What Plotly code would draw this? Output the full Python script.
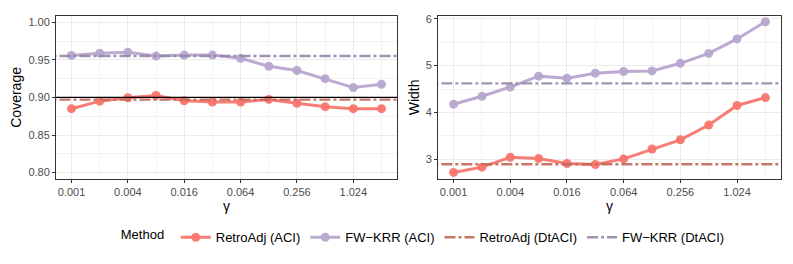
import math
import plotly.graph_objects as go
from plotly.subplots import make_subplots

gamma = [0.001, 0.002, 0.004, 0.008, 0.016, 0.032, 0.064, 0.128, 0.256, 0.512, 1.024, 2.048]
tick_vals = [0.001, 0.004, 0.016, 0.064, 0.256, 1.024]
tick_text = ["0.001", "0.004", "0.016", "0.064", "0.256", "1.024"]
minor_x = [0.002, 0.008, 0.032, 0.128, 0.512, 2.048]

cov_retro_aci = [0.885, 0.895, 0.8995, 0.9026, 0.8956, 0.8938, 0.8938, 0.8973, 0.8921, 0.8877, 0.885, 0.885]
cov_fw_aci = [0.9559, 0.9589, 0.9602, 0.955, 0.9563, 0.9563, 0.952, 0.9415, 0.9358, 0.9249, 0.9131, 0.9174]
cov_retro_dt = 0.897
cov_fw_dt = 0.955
target = 0.90

wid_retro_aci = [2.718, 2.831, 3.042, 3.014, 2.908, 2.887, 3.007, 3.218, 3.415, 3.732, 4.148, 4.317]
wid_fw_aci = [4.176, 4.345, 4.542, 4.775, 4.732, 4.838, 4.873, 4.887, 5.049, 5.261, 5.570, 5.937]
wid_retro_dt = 2.894
wid_fw_dt = 4.620

names = ["RetroAdj (ACI)", "FW\u2212KRR (ACI)", "RetroAdj (DtACI)", "FW\u2212KRR (DtACI)"]
col_retro = "rgba(248,118,109,0.95)"
col_fw = "rgba(183,166,207,0.95)"
col_retro_dt = "rgba(192,104,90,0.9)"
col_fw_dt = "rgba(148,136,166,0.9)"
dash_pat = "11px,3px,3px,3px"

FONT = "Liberation Sans, Arial, sans-serif"

fig = make_subplots(rows=1, cols=2)

def add_panel(col, retro, fw, retro_dt, fw_dt, show):
    fig.add_trace(go.Scatter(x=gamma, y=retro, mode="lines+markers", name=names[0],
                             line=dict(color=col_retro, width=3), marker=dict(size=9, color=col_retro),
                             showlegend=show, legendgroup="a"), row=1, col=col)
    fig.add_trace(go.Scatter(x=gamma, y=fw, mode="lines+markers", name=names[1],
                             line=dict(color=col_fw, width=3), marker=dict(size=9, color=col_fw),
                             showlegend=show, legendgroup="b"), row=1, col=col)
    xs = [gamma[0] / 2.2, gamma[-1] * 2.2]
    fig.add_trace(go.Scatter(x=xs, y=[retro_dt, retro_dt], mode="lines", name=names[2],
                             line=dict(color=col_retro_dt, width=2.4, dash=dash_pat),
                             showlegend=show, legendgroup="c"), row=1, col=col)
    fig.add_trace(go.Scatter(x=xs, y=[fw_dt, fw_dt], mode="lines", name=names[3],
                             line=dict(color=col_fw_dt, width=2.4, dash=dash_pat),
                             showlegend=show, legendgroup="d"), row=1, col=col)

add_panel(1, cov_retro_aci, cov_fw_aci, cov_retro_dt, cov_fw_dt, True)
add_panel(2, wid_retro_aci, wid_fw_aci, wid_retro_dt, wid_fw_dt, False)

fig.add_hline(y=target, line=dict(color="black", width=1.2), row=1, col=1)

lg2 = math.log10(2)
xr = [math.log10(gamma[0]) - 0.55 * lg2, math.log10(gamma[-1]) + 0.55 * lg2]

axis_common = dict(
    showline=True, linecolor="#333333", linewidth=1, mirror=True,
    gridcolor="#EBEBEB", gridwidth=1, zeroline=False,
    ticks="outside", ticklen=3, tickcolor="#333333",
    tickfont=dict(family=FONT, size=11, color="#4D4D4D"),
)
for c in (1, 2):
    fig.update_xaxes(type="log", range=xr, tickvals=tick_vals, ticktext=tick_text,
                     minor=dict(tickvals=minor_x, showgrid=True, gridcolor="#F3F3F3", ticks=""),
                     title=dict(text="\u03b3", font=dict(family=FONT, size=14, color="black"), standoff=0),
                     row=1, col=c, **axis_common)

fig.update_yaxes(range=[0.7915, 1.0085], tickvals=[0.80, 0.85, 0.90, 0.95, 1.00],
                 ticktext=["0.80", "0.85", "0.90", "0.95", "1.00"],
                 minor=dict(tickvals=[0.825, 0.875, 0.925, 0.975], showgrid=True, gridcolor="#F3F3F3", ticks=""),
                 title=dict(text="Coverage", font=dict(family=FONT, size=14, color="black"), standoff=3),
                 row=1, col=1, **axis_common)
fig.update_yaxes(range=[2.578, 6.063], tickvals=[3, 4, 5, 6], ticktext=["3", "4", "5", "6"],
                 minor=dict(tickvals=[3.5, 4.5, 5.5], showgrid=True, gridcolor="#F3F3F3", ticks=""),
                 title=dict(text="Width", font=dict(family=FONT, size=14, color="black"), standoff=2),
                 row=1, col=2, **axis_common)

fig.update_layout(
    width=793, height=264,
    margin=dict(l=0, r=0, t=0, b=0),
    paper_bgcolor="white", plot_bgcolor="white",
    font=dict(family=FONT, size=12, color="black"),
    xaxis=dict(domain=[56 / 793, 397 / 793]),
    xaxis2=dict(domain=[438 / 793, 781 / 793]),
    yaxis=dict(domain=[1 - 178 / 264, 1 - 13 / 264]),
    yaxis2=dict(domain=[1 - 178 / 264, 1 - 13 / 264]),
    legend=dict(orientation="h", x=0.535, xanchor="center", y=1 - 237 / 264, yanchor="middle",
                title=dict(text="Method ", side="left", font=dict(family=FONT, size=13)),
                font=dict(family=FONT, size=13), itemwidth=30, tracegroupgap=0,
                bgcolor="rgba(0,0,0,0)"),
)

fig.write_html("out.html", config={"displayModeBar": False},
               post_script="document.body.style.margin='0';document.body.style.overflow='hidden';")
